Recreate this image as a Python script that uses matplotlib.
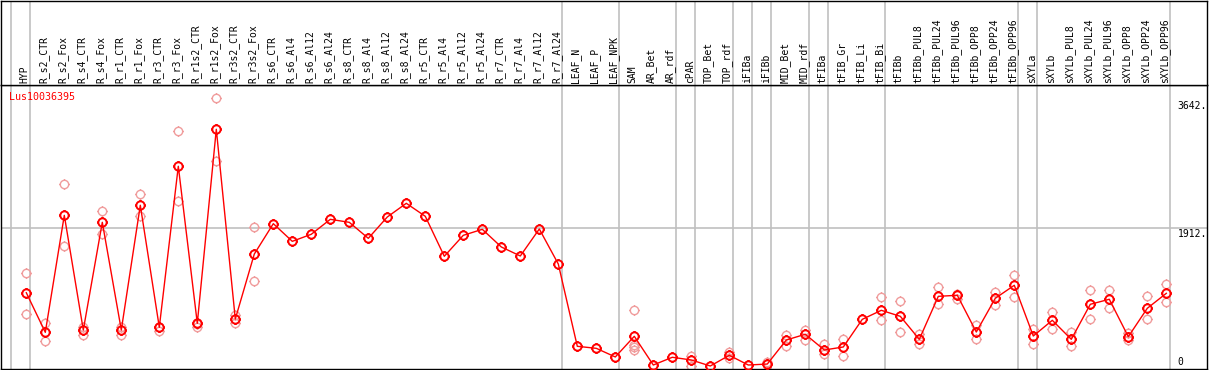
import numpy as np
import matplotlib
matplotlib.use('Agg')
import matplotlib.pyplot as plt
from matplotlib.path import Path
from matplotlib.transforms import blended_transform_factory

# Sample names, left to right
samples = ['HYP', 'R_s2_CTR', 'R_s2_Fox', 'R_s4_CTR', 'R_s4_Fox', 'R_r1_CTR', 'R_r1_Fox',
           'R_r3_CTR', 'R_r3_Fox', 'R_r1s2_CTR', 'R_r1s2_Fox', 'R_r3s2_CTR', 'R_r3s2_Fox',
           'R_s6_CTR', 'R_s6_Al4', 'R_s6_Al12', 'R_s6_Al24', 'R_s8_CTR', 'R_s8_Al4',
           'R_s8_Al12', 'R_s8_Al24', 'R_r5_CTR', 'R_r5_Al4', 'R_r5_Al12', 'R_r5_Al24',
           'R_r7_CTR', 'R_r7_Al4', 'R_r7_Al12', 'R_r7_Al24', 'LEAF_N', 'LEAF_P', 'LEAF_NPK',
           'SAM', 'AR_Bet', 'AR_rdf', 'cPAR', 'TOP_Bet', 'TOP_rdf', 'iFIBa', 'iFIBb',
           'MID_Bet', 'MID_rdf', 'tFIBa', 'tFIB_Gr', 'tFIB_Li', 'tFIB_Bi', 'tFIBb',
           'tFIBb_PUL8', 'tFIBb_PUL24', 'tFIBb_PUL96', 'tFIBb_OPP8', 'tFIBb_OPP24',
           'tFIBb_OPP96', 'sXYLa', 'sXYLb', 'sXYLb_PUL8', 'sXYLb_PUL24', 'sXYLb_PUL96',
           'sXYLb_OPP8', 'sXYLb_OPP24', 'sXYLb_OPP96']

# Mean expression per sample
means = [1055, 528, 2085, 559, 1992, 559, 2219, 595, 2738, 648, 3230, 705, 1570,
         1974, 1739, 1833, 2032, 1992, 1779, 2063, 2245, 2072, 1540, 1819, 1899,
         1664, 1544, 1903, 1437, 342, 315, 200,
         475, 93, 196, 160, 80, 222, 93, 106,
         426, 502, 293, 333, 701, 821, 741,
         435, 1007, 1021, 532, 981, 1154,
         479, 688, 435, 901, 968, 470, 848, 1047]

# Individual replicates (empty where none shown)
replicates = [[1318, 768], [648, 417], [2498, 1681], [603, 492], [2143, 1841],
              [603, 492], [2365, 2076], [603, 550], [3207, 2272], [635, 603],
              [3642, 2808], [759, 648], [1926, 1207],
              [], [], [], [], [], [], [], [], [], [], [], [], [], [], [], [],
              [], [], [],
              [825, 359, 328, 293], [], [], [217, 84], [], [262, 190], [], [129],
              [492, 350], [559, 426], [369, 244], [439, 209], [], [994, 692], [941, 528],
              [510, 373], [1127, 901], [1042, 976], [622, 443], [1065, 888], [1291, 1002],
              [576, 377], [799, 568], [532, 342], [1091, 705], [1091, 848], [515, 426],
              [1007, 705], [1171, 932]]

# Group separators sit just after these sample indices
group_ends = [-1, 0, 28, 31, 34, 35, 37, 38, 39, 41, 42, 45, 52, 53, 60]

y_labels = [3642, 1912, 0]
gene = 'Lus10036395'

W, H = 1209, 370
fig = plt.figure(figsize=(W / 100, H / 100), dpi=100)

# pixel layout: columns 19 px apart, first at x=26.3
x0, dx = 26.3, 19.0
left_px, right_px = 1.0, 1206.5
top_px, bot_px = 85.0, 369.0
xlim = ((left_px - x0) / dx, (right_px - x0) / dx)
# value -> pixel: y = 372 - 0.07514 * v
k = 0.07514
ylim = ((372 - bot_px) / k, (372 - top_px) / k)

ax = fig.add_axes([left_px / W, (H - bot_px) / H, (right_px - left_px) / W, (bot_px - top_px) / H])
hd = fig.add_axes([left_px / W, (H - top_px) / H, (right_px - left_px) / W, (top_px - 0.5) / H])

for a in (ax, hd):
    a.set_xlim(*xlim)
    a.set_xticks([])
    a.set_yticks([])
    for s in a.spines.values():
        s.set_color('black')
        s.set_linewidth(1.0)
ax.set_ylim(*ylim)
hd.set_ylim(0, 1)

gray = '#c0c0c0'
for g in group_ends:
    ax.axvline(g + 0.2, color=gray, lw=1.2, zorder=1)
    hd.axvline(g + 0.2, color=gray, lw=1.2, zorder=1)
ax.axhline(y_labels[1], color=gray, lw=1.2, zorder=1)

# circle marker with small ticks like the original
circ = Path.unit_circle()
ticks = Path([(0, 1), (0, 1.25), (0, -1), (0, -1.25), (1, 0), (1.25, 0), (-1, 0), (-1.25, 0)],
             [Path.MOVETO, Path.LINETO] * 4)
mk = Path.make_compound_path(circ, ticks)

xs = np.arange(len(samples))
rx = [i for i, r in enumerate(replicates) for _ in r]
ry = [v for r in replicates for v in r]
ax.plot(rx, ry, linestyle='none', marker=mk, markersize=7.5, markerfacecolor='none',
        markeredgecolor='#f09c9c', markeredgewidth=1.0, zorder=2)
ax.plot(xs, means, color='red', lw=1.0, marker=mk, markersize=7.5, markerfacecolor='none',
        markeredgecolor='red', markeredgewidth=1.4, zorder=3)

mono = 'DejaVu Sans Mono'
tr = blended_transform_factory(hd.transData, hd.transAxes)
for i, name in enumerate(samples):
    hd.text(i - 0.08, 0.02, name, rotation=90, ha='center', va='bottom', transform=tr,
            fontsize=7, family=mono, color='black')

ax.text(-0.9, 3655, gene, color='red', fontsize=7.2, family=mono, ha='left', va='center')

# value labels at the right
lx = 60.6
ax.text(lx, y_labels[0] - 40, '%d.' % y_labels[0], fontsize=7, family=mono, va='top', ha='left')
ax.text(lx, y_labels[1] - 15, '%d.' % y_labels[1], fontsize=7, family=mono, va='top', ha='left')
ax.text(lx, ylim[0] + 30, '%d' % y_labels[2], fontsize=7, family=mono, va='bottom', ha='left')

fig.savefig('out.png', dpi=100)
